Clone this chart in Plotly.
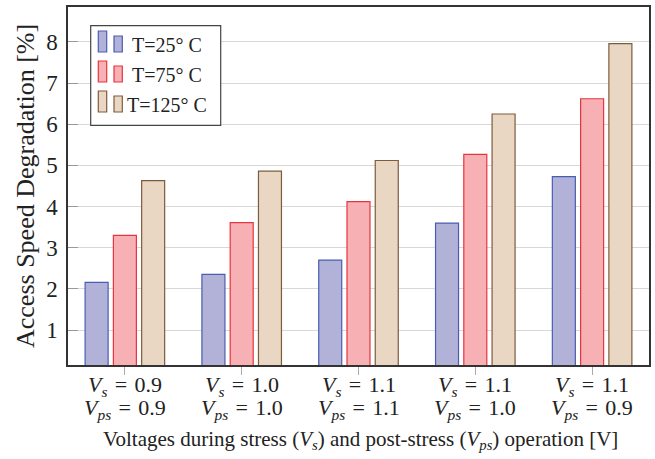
import plotly.graph_objects as go

vs_vals = ["0.9", "1.0", "1.1", "1.1", "1.1"]
vps_vals = ["0.9", "1.0", "1.1", "1.0", "0.9"]
categories = [f"Vs={a}, Vps={b}" for a, b in zip(vs_vals, vps_vals)]
series_names = ["T=25° C", "T=75° C", "T=125° C"]
t25 = [2.16, 2.35, 2.70, 3.60, 4.73]
t75 = [3.30, 3.61, 4.12, 5.27, 6.62]
t125 = [4.63, 4.86, 5.12, 6.25, 7.96]
y_ticks = [1, 2, 3, 4, 5, 6, 7, 8]

fills = ["#b2b2d9", "#f7b1b4", "#e9d7c3"]
edges = ["#4a5db0", "#e8343e", "#7d5c3c"]
FONT = "Liberation Serif, Times New Roman, serif"

W, H = 655, 459
L, R, T, B = 68, 6, 7, 94
PW, PH = W - L - R, H - T - B

def px(x):
    return (x - L) / PW

def py(y):
    return (H - B - y) / PH

fig = go.Figure()
for name, vals, f, e in zip(series_names, [t25, t75, t125], fills, edges):
    fig.add_trace(go.Bar(x=categories, y=vals, name=name, marker=dict(color=f, line=dict(color=e, width=1.2)),
                         showlegend=False))

fig.update_layout(
    width=W, height=H,
    margin=dict(l=L, r=R, t=T, b=B, autoexpand=False),
    paper_bgcolor="white", plot_bgcolor="white",
    barmode="group", bargap=0.274, bargroupgap=0.186,
    font=dict(family=FONT, color="#222", size=20),
)
fig.update_xaxes(range=[-0.487, 4.487], showline=True, linecolor="#333", linewidth=1.5, mirror=True,
                 ticks="outside", ticklen=8, tickcolor="#aaa", tickwidth=1, showgrid=False, automargin=False,
                 showticklabels=False)
fig.update_yaxes(range=[0.15, 8.85], tickvals=y_ticks, ticktext=[str(v) for v in y_ticks],
                 showline=True, linecolor="#333", linewidth=1.5, mirror=True,
                 ticks="inside", ticklen=10, tickcolor="#999", tickwidth=1, showgrid=True, gridcolor="#d8d8d8",
                 gridwidth=1, zeroline=False, automargin=False, ticklabelstandoff=4,
                 tickfont=dict(size=23, family=FONT, color="#222"))

# two-line category labels under each group
EQ = "&#8196;=&#8196;"
for cat, a, b in zip(categories, vs_vals, vps_vals):
    fig.add_annotation(text=f"<i>V<sub>s</sub></i>{EQ}{a}", x=cat, xref="x", yref="paper", y=py(386),
                       showarrow=False, font=dict(size=22, family=FONT), xanchor="center", yanchor="middle")
    fig.add_annotation(text=f"<i>V<sub>ps</sub></i>{EQ}{b}", x=cat, xref="x", yref="paper", y=py(409),
                       showarrow=False, font=dict(size=22, family=FONT), xanchor="center", yanchor="middle")

fig.add_annotation(text="Access Speed Degradation [%]", textangle=-90, xref="paper", yref="paper",
                   x=px(25), y=py(186), showarrow=False, font=dict(size=26, family=FONT), xanchor="center", yanchor="middle")
fig.add_annotation(text="Voltages during stress (<i>V<sub>s</sub></i>) and post-stress (<i>V<sub>ps</sub></i>) operation [V]",
                   xref="paper", yref="paper", x=px(360), y=py(440), showarrow=False,
                   font=dict(size=21, family=FONT), xanchor="center", yanchor="middle")

# legend box
fig.add_shape(type="rect", xref="paper", yref="paper", x0=px(90.7), x1=px(220.7), y0=py(25.7), y1=py(125.3),
              line=dict(color="#444", width=1.2), fillcolor="white", layer="above")
for i, (name, f, e) in enumerate(zip(series_names, fills, edges)):
    o = 30 * i
    fig.add_shape(type="rect", xref="paper", yref="paper", x0=px(98.3), x1=px(106.7), y0=py(31 + o), y1=py(52 + o),
                  line=dict(color=e, width=1.2), fillcolor=f, layer="above")
    fig.add_shape(type="rect", xref="paper", yref="paper", x0=px(114), x1=px(122.3), y0=py(36 + o), y1=py(52 + o),
                  line=dict(color=e, width=1.2), fillcolor=f, layer="above")
    fig.add_annotation(text=name, xref="paper", yref="paper", x=px(167), y=py(45 + o), showarrow=False,
                       font=dict(size=20, family=FONT), xanchor="center", yanchor="middle")

fig.write_html("out.html", config={"displayModeBar": False},
               post_script="document.body.style.margin='0';document.body.style.overflow='hidden';")
